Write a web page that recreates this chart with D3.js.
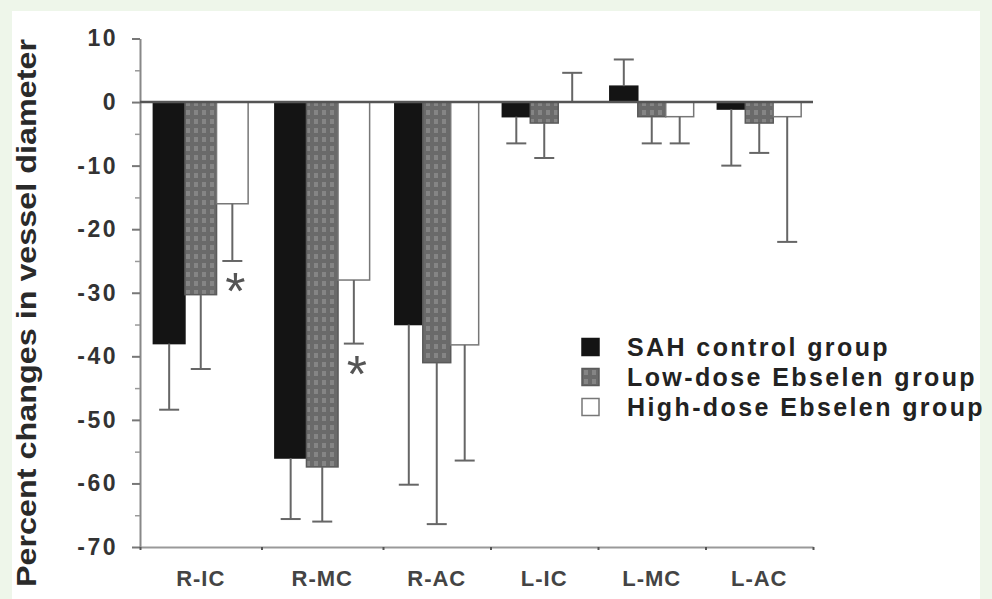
<!DOCTYPE html>
<html>
<head>
<meta charset="utf-8">
<script src="https://cdn.jsdelivr.net/npm/d3@7"></script>
<style>
  body { margin: 0; background: #eef6ea; }
  svg { display: block; font-family: "Liberation Sans", Arial, sans-serif; }
</style>
</head>
<body>
<svg id="chart" width="992" height="599"></svg>
<script>
const categories = ["R-IC", "R-MC", "R-AC", "L-IC", "L-MC", "L-AC"];
const groupNames = ["SAH control group", "Low-dose Ebselen group", "High-dose Ebselen group"];

// mean % change and one-sided SD per vessel
const sahMean = [-38, -56, -35, -2.3, 2.5, -1.1];
const sahErr = [10.4, 9.6, 25.2, 4.2, 4.2, 8.9];
const lowMean = [-30.3, -57.4, -41, -3.3, -2.3, -3.3];
const lowErr = [11.7, 8.6, 25.4, 5.5, 4.2, 4.7];
const highMean = [-16, -28, -38.2, 0, -2.3, -2.3];
const highErr = [9, 10, 18.2, 4.6, 4.2, 19.7];

// asterisks: [category index, group index]
const significant = [[0, 2], [1, 2]];

const yTickValues = [-70, -60, -50, -40, -30, -20, -10, 0, 10];
const yMinorTicks = [-65, -55, -45, -35, -25, -15, -5, 5];

const svg = d3.select("#chart");

// scanned page background
svg.append("rect").attr("width", 992).attr("height", 599).attr("fill", "#eef6ea");
svg.append("rect").attr("x", 12).attr("y", 11).attr("width", 968).attr("height", 588).attr("fill", "#fff");

const defs = svg.append("defs");
const pat = defs.append("pattern")
  .attr("id", "mottle")
  .attr("width", 8).attr("height", 9)
  .attr("patternUnits", "userSpaceOnUse");
pat.append("rect").attr("width", 8).attr("height", 9).attr("fill", "#6a6a6a");
pat.append("rect").attr("x", 2).attr("y", 2).attr("width", 4).attr("height", 5).attr("fill", "#858585");

// the scan is not evenly spaced, so the x scale is piecewise
const x = d3.scaleLinear().domain([0, 2, 6]).range([140, 383, 813]);
const y = d3.scaleLinear().domain([-70, 10]).range([547, 38.5]);

const series = [
  { name: groupNames[0], mean: sahMean, err: sahErr, fill: "#141414", stroke: "#141414" },
  { name: groupNames[1], mean: lowMean, err: lowErr, fill: "url(#mottle)", stroke: "#5a5a5a" },
  { name: groupNames[2], mean: highMean, err: highErr, fill: "#fff", stroke: "#777" }
];

const groupStart = 0.11, barUnit = 0.26;

// Y axis
const yAxis = svg.append("g")
  .attr("transform", "translate(140,0)")
  .call(d3.axisLeft(y).tickValues(yTickValues).tickSize(8).tickSizeOuter(0).tickPadding(14).tickFormat((d) => String(d)));
yAxis.select(".domain").attr("stroke", "#888").attr("stroke-width", 2);
yAxis.selectAll(".tick line").attr("stroke", "#777").attr("stroke-width", 2);
yAxis.selectAll(".tick text")
  .style("font-size", "23px")
  .style("font-weight", "bold")
  .style("letter-spacing", "2.5px")
  .attr("fill", "#333");

const yMinor = svg.append("g")
  .attr("transform", "translate(140,0)")
  .call(d3.axisLeft(y).tickValues(yMinorTicks).tickSize(5).tickSizeOuter(0).tickFormat(""));
yMinor.select(".domain").remove();
yMinor.selectAll(".tick line").attr("stroke", "#999").attr("stroke-width", 1.5);

// X axis
const xAxis = svg.append("g")
  .attr("transform", `translate(0,${y(-70)})`)
  .call(d3.axisBottom(x).tickValues(d3.range(0, 7)).tickSize(3).tickSizeOuter(0).tickFormat(""));
xAxis.select(".domain").attr("stroke", "#999").attr("stroke-width", 2);
xAxis.selectAll(".tick line").attr("stroke", "#555").attr("stroke-width", 2);

svg.append("g")
  .selectAll("text")
  .data(categories)
  .enter()
  .append("text")
  .attr("x", (d, i) => x(i + 0.5))
  .attr("y", 586)
  .attr("text-anchor", "middle")
  .style("font-size", "22px")
  .style("font-weight", "bold")
  .style("letter-spacing", "1px")
  .attr("fill", "#444")
  .text((d) => d);

// Y label
svg.append("text")
  .attr("transform", "translate(36,313) rotate(-90)")
  .attr("text-anchor", "middle")
  .attr("textLength", 548)
  .attr("lengthAdjust", "spacingAndGlyphs")
  .style("font-size", "28px")
  .style("font-weight", "bold")
  .attr("fill", "#2a2a2a")
  .text("Percent changes in vessel diameter");

// Bars
const bx = (i, s) => x(i + groupStart + s * barUnit);
const bw = (i, s) => bx(i, s + 1) - bx(i, s);

series.forEach((ser, s) => {
  const g = svg.append("g").attr("class", `series-${s}`);
  g.selectAll("rect")
    .data(ser.mean)
    .enter()
    .append("rect")
    .attr("x", (d, i) => bx(i, s))
    .attr("width", (d, i) => bw(i, s))
    .attr("y", (d) => y(Math.max(0, d)))
    .attr("height", (d) => Math.abs(y(d) - y(0)))
    .attr("fill", ser.fill)
    .attr("stroke", ser.stroke)
    .attr("stroke-width", 1.5);

  // one-sided error bars, pointing away from zero
  const eb = g.selectAll(".err")
    .data(ser.mean.map((m, i) => ({ m, e: ser.err[i], i })))
    .enter()
    .append("g")
    .attr("class", "err")
    .attr("stroke", "#666")
    .attr("stroke-width", 2);
  const tip = (d) => y(d.m + (d.m >= 0 ? d.e : -d.e));
  eb.append("line")
    .attr("x1", (d) => bx(d.i, s) + bw(d.i, s) / 2)
    .attr("x2", (d) => bx(d.i, s) + bw(d.i, s) / 2)
    .attr("y1", (d) => y(d.m))
    .attr("y2", tip);
  eb.append("line")
    .attr("x1", (d) => bx(d.i, s) + bw(d.i, s) / 2 - 10)
    .attr("x2", (d) => bx(d.i, s) + bw(d.i, s) / 2 + 10)
    .attr("y1", tip)
    .attr("y2", tip);
});

// zero line
svg.append("line")
  .attr("x1", x(0)).attr("x2", x(6))
  .attr("y1", y(0)).attr("y2", y(0))
  .attr("stroke", "#555")
  .attr("stroke-width", 2.5);

// asterisks under significant error bars
svg.append("g")
  .selectAll("text")
  .data(significant)
  .enter()
  .append("text")
  .attr("x", (d) => bx(d[0], d[1]) + bw(d[0], d[1]) / 2 + 3)
  .attr("y", (d) => y(series[d[1]].mean[d[0]] - series[d[1]].err[d[0]]) + 48)
  .attr("text-anchor", "middle")
  .style("font-size", "52px")
  .attr("fill", "#555")
  .text("*");

// Legend
const legend = svg.append("g").attr("transform", "translate(582,347)");
const item = legend.selectAll("g")
  .data(series)
  .enter()
  .append("g")
  .attr("transform", (d, i) => `translate(0,${i * 30})`);
item.append("rect")
  .attr("x", 0).attr("y", -8.5)
  .attr("width", 17).attr("height", 17)
  .attr("fill", (d) => d.fill)
  .attr("stroke", (d) => d.stroke)
  .attr("stroke-width", 1.5);
item.append("text")
  .attr("x", 45)
  .attr("dy", "0.36em")
  .style("font-size", "25px")
  .style("font-weight", "bold")
  .style("letter-spacing", "2.4px")
  .attr("fill", "#222")
  .text((d) => d.name);
</script>
</body>
</html>
